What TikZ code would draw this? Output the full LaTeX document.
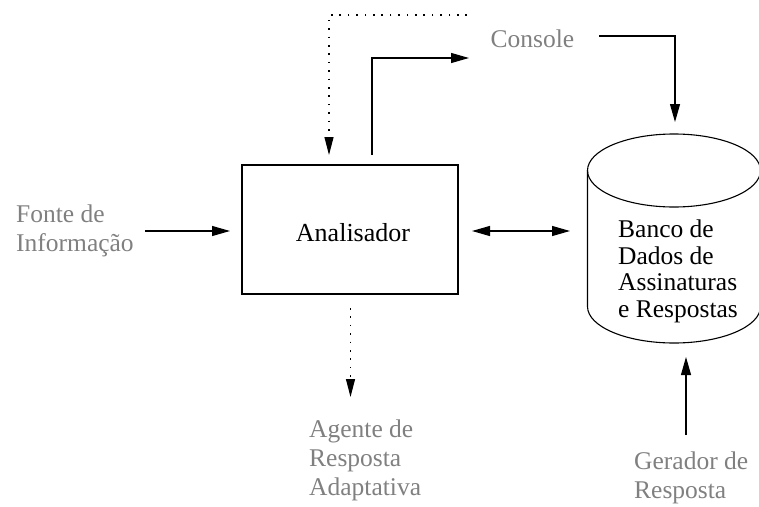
\documentclass[tikz,border=0pt]{standalone}
\usepackage{fontspec}
\setmainfont{Liberation Serif}
\usetikzlibrary{arrows.meta}
\definecolor{lblgray}{HTML}{808080}
\tikzset{
  lbl/.style={text=lblgray, font=\fontsize{25.5}{29}\selectfont, align=left, inner sep=0pt},
  dbtext/.style={text=black, font=\fontsize{25.5}{26.5}\selectfont, align=left, inner sep=0pt},
  box/.style={draw, line width=1.1pt, minimum width=216pt, minimum height=129pt, font=\fontsize{26}{28}\selectfont, inner sep=0pt, text height=25pt},
  conn/.style={line width=1.1pt},
  arr/.style={conn, -{Triangle[length=18pt,width=10pt]}},
  arrtwo/.style={conn, {Triangle[length=18pt,width=10pt]}-{Triangle[length=18pt,width=10pt]}},
  dotarr/.style={conn, dash pattern=on 1.6pt off 6.8pt, -{Triangle[length=18pt,width=9pt]}},
}
\begin{document}
\begin{tikzpicture}[x=1pt,y=-1pt]
\useasboundingbox (0,0) rectangle (759,506);
% Analyzer box
\node[box] (ana) at (350,229.5) {\hspace*{6pt}Analisador};
% Cylinder (database)
\draw[line width=1.1pt] (674,170.5) ellipse [x radius=86.5, y radius=36.5];
\draw[line width=1.1pt] (587.5,170.5) -- (587.5,306.5)
  arc[start angle=180, end angle=0, x radius=86.5, y radius=36.5]
  -- (760.5,170.5);
\node[dbtext, anchor=base west] (db) at (618,317) {Banco de\\Dados de\\Assinaturas\\e Respostas};
% Labels
\node[lbl, anchor=base west] (fonte) at (16,251) {Fonte de\\Informação};
\node[lbl, anchor=base west] (console) at (490.5,47) {Console};
\node[lbl, anchor=base west] (agente) at (309,495) {Agente de\\Resposta\\Adaptativa};
\node[lbl, anchor=base west] (gerador) at (634,498) {Gerador de\\Resposta};
% Connector end points
\coordinate (fontestart) at (145,231);
\coordinate (anain) at (230,231);
\coordinate (anaout) at (472,231);
\coordinate (dbin) at (570,231);
\coordinate (consolein) at (469,58);
\coordinate (anatopsolid) at (372,155);
\coordinate (dottop) at (467,15);
\coordinate (anatopdot) at (329,155);
\coordinate (consoleout) at (599,36);
\coordinate (dbtop) at (675,122);
\coordinate (anabottom) at (350.5,308);
\coordinate (agentetop) at (350.5,397);
\coordinate (geradortop) at (686,435);
\coordinate (dbbottom) at (686,357);
% Connectors
\draw[arr] (fontestart) -- (anain);
\draw[arrtwo] (anaout) -- (dbin);
\draw[arr] (anatopsolid) |- (consolein);
\draw[dotarr] (dottop) -| (anatopdot);
\draw[arr] (consoleout) -| (dbtop);
\draw[dotarr] (anabottom) -- (agentetop);
\draw[arr] (geradortop) -- (dbbottom);
\end{tikzpicture}
\end{document}
